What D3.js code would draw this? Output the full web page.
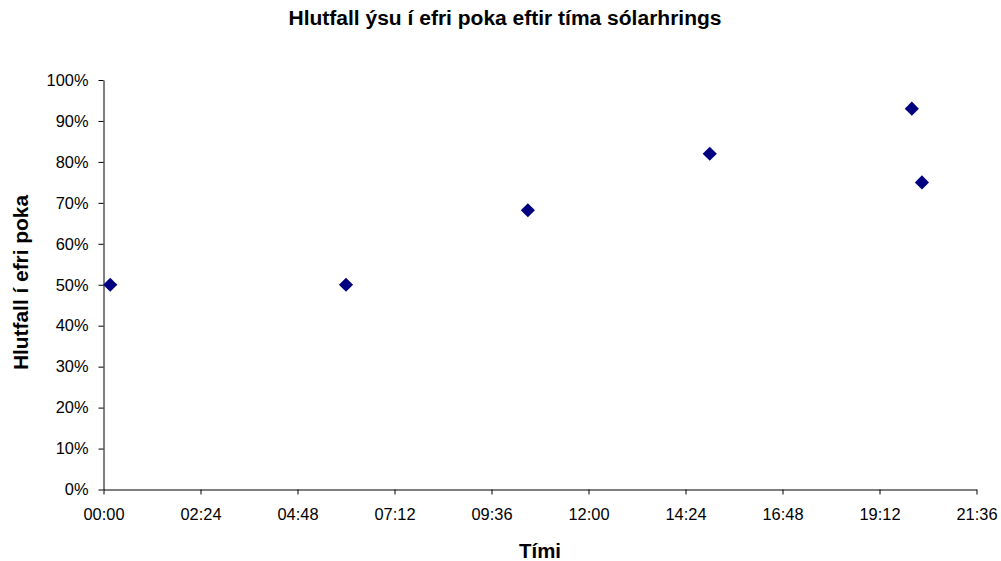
<!DOCTYPE html>
<html>
<head>
<meta charset="utf-8">
<script src="https://cdn.jsdelivr.net/npm/d3@7"></script>
<style>
  html, body { margin: 0; padding: 0; background: #fff; }
  svg { display: block; font-family: "Liberation Sans", Arial, sans-serif; }
</style>
</head>
<body>
<svg id="chart" width="1001" height="561"></svg>
<script>
// Observation times (HH:MM) and the share of haddock caught in the upper codend
const times = ["00:10", "06:00", "10:30", "15:00", "20:00", "20:15"];
const shares = [0.50, 0.50, 0.682, 0.82, 0.93, 0.75];

// Axis ticks: every 2 h 24 min across the day, and every 10 %
const xTickMinutes = [0, 144, 288, 432, 576, 720, 864, 1008, 1152, 1296];
const yTickValues = [0, 0.1, 0.2, 0.3, 0.4, 0.5, 0.6, 0.7, 0.8, 0.9, 1.0];

const titleText = "Hlutfall ýsu í efri poka eftir tíma sólarhrings";
const xLabelText = "Tími";
const yLabelText = "Hlutfall í efri poka";

const toMinutes = t => { const [h, m] = t.split(":").map(Number); return h * 60 + m; };
const pad = n => String(n).padStart(2, "0");
const fmtTime = m => pad(Math.floor(m / 60)) + ":" + pad(m % 60);

const points = times.map((t, i) => ({ minutes: toMinutes(t), share: shares[i] }));

const svg = d3.select("#chart");
const plotLeft = 103.5, plotRight = 976.5, plotTop = 80, plotBottom = 489.5;

const x = d3.scaleLinear().domain([0, 1296]).range([plotLeft, plotRight]);
const y = d3.scaleLinear().domain([0, 1]).range([plotBottom, plotTop]);

// Y axis
const yAxis = svg.append("g")
  .attr("transform", `translate(${plotLeft},0)`)
  .call(d3.axisLeft(y).tickValues(yTickValues).tickFormat(d3.format(".0%"))
    .tickSize(5).tickPadding(10).tickSizeOuter(0));

// X axis
const xAxis = svg.append("g")
  .attr("transform", `translate(0,${plotBottom})`)
  .call(d3.axisBottom(x).tickValues(xTickMinutes).tickFormat(fmtTime)
    .tickSize(5).tickPadding(14).tickSizeOuter(0));

[xAxis, yAxis].forEach(g => {
  g.select(".domain").attr("stroke", "#000").attr("stroke-width", 1);
  g.selectAll(".tick line").attr("stroke", "#000").attr("stroke-width", 1);
  g.selectAll(".tick text").attr("fill", "#000")
    .style("font-size", "16.4px").style("font-family", "'Liberation Sans', Arial, sans-serif");
});

// Diamond markers
svg.append("g")
  .selectAll("path")
  .data(points)
  .join("path")
  .attr("d", d3.symbol(d3.symbolSquare, 100))
  .attr("transform", d => `translate(${x(d.minutes)},${y(d.share)}) rotate(45)`)
  .attr("fill", "#000080");

// Title and axis titles
svg.append("text")
  .attr("x", 505).attr("y", 25)
  .attr("text-anchor", "middle")
  .attr("textLength", 433).attr("lengthAdjust", "spacingAndGlyphs")
  .style("font-size", "19.5px").style("font-weight", "bold")
  .text(titleText);

svg.append("text")
  .attr("x", 540).attr("y", 558)
  .attr("text-anchor", "middle")
  .attr("textLength", 42).attr("lengthAdjust", "spacingAndGlyphs")
  .style("font-size", "19.5px").style("font-weight", "bold")
  .text(xLabelText);

svg.append("text")
  .attr("transform", "translate(28,282.5) rotate(-90)")
  .attr("text-anchor", "middle")
  .attr("textLength", 175).attr("lengthAdjust", "spacingAndGlyphs")
  .style("font-size", "19.5px").style("font-weight", "bold")
  .text(yLabelText);
</script>
</body>
</html>
